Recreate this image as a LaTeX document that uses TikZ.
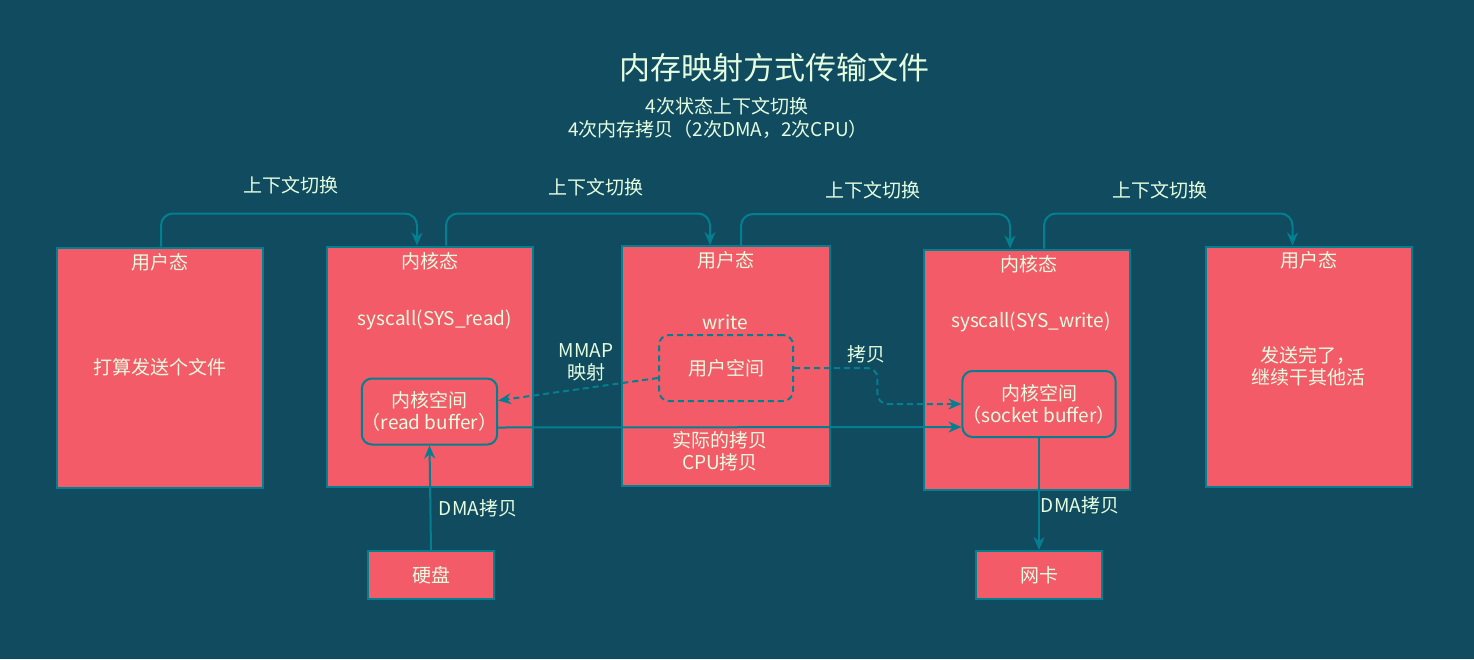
\documentclass[tikz,border=0pt]{standalone}
\usepackage{fontspec}
\setmainfont{Noto Sans CJK SC}
\usetikzlibrary{calc,arrows.meta}
\definecolor{bgc}{HTML}{114B5F}
\definecolor{boxc}{HTML}{F45B69}
\definecolor{linec}{HTML}{028090}
\definecolor{txtc}{HTML}{E4FDE1}

\begin{document}
\begin{tikzpicture}[x=1pt,y=-1pt,
  every node/.style={text=txtc,font=\fontsize{19}{22}\selectfont,align=center,inner sep=0pt},
  state/.style={draw=linec,fill=boxc,line width=2pt,minimum width=206pt,minimum height=240pt},
  buf/.style={draw=linec,fill=boxc,line width=2pt,rounded corners=10pt,minimum height=66pt},
  dev/.style={draw=linec,fill=boxc,line width=2pt,minimum width=126pt,minimum height=48pt},
  sw/.style={draw=linec,line width=2pt,rounded corners=12pt,-{Stealth[length=13pt,width=11pt]}},
  cp/.style={draw=linec,line width=2pt,-{Stealth[length=13pt,width=11pt]}},
  dsh/.style={cp,dash pattern=on 6pt off 4pt}]
          \fill[bgc] (0,0) rectangle (1474,659);
          \useasboundingbox (0,0) rectangle (1474,659);
          \node[font=\fontsize{31}{36}\selectfont] (T) at (774,68) {内存映射方式传输文件};
          \node (S1) at (727,106) {4次状态上下文切换};
          \node (S2) at (718,129) {4次内存拷贝（2次DMA，2次CPU）};
          \node[state] (A) at (160,367.5) {};
          \node[state] (B) at (430,366.5) {};
          \node[state,minimum width=208pt] (C) at (726,366) {};
          \node[state] (D) at (1027,369.5) {};
          \node[state] (E) at (1308.5,366.5) {};
          \node (A1) at (160,262) {用户态};
          \node (A2) at (160,367) {打算发送个文件};
          \node (B1) at (430,261) {内核态};
          \node (B2) at (435,320) {syscall(SYS\_read)};
          \node (C1) at (726,260) {用户态};
          \node (C2) at (725,322) {write};
          \node (C3) at (720,451) {实际的拷贝\\CPU拷贝};
          \node (D1) at (1029,264) {内核态};
          \node (D2) at (1031,322) {syscall(SYS\_write)};
          \node (E1) at (1309,260) {用户态};
          \node (E2) at (1308,366) {发送完了，\\继续干其他活};
          \node[buf,minimum width=133pt] (RB) at (429.5,411.5) {内核空间\\（read buffer）};
          \node[buf,minimum width=134pt,fill=none,dash pattern=on 6pt off 4pt] (UB) at (726,368) {用户空间};
          \node[buf,minimum width=150pt] (SB) at (1039,404) {内核空间\\（socket buffer）};
          \node[dev] (HD) at (431,575) {硬盘};
          \node[dev] (NC) at (1039,575) {网卡};
          \draw[sw] ($(A.north)+(1,0)$) -- ++(0,-33) -| ($(B.north)+(-13,0)$);
          \draw[sw] ($(B.north)+(16,0)$) -- ++(0,-32) -| ($(C.north)+(-16,0)$);
          \draw[sw] ($(C.north)+(15,0)$) -- ++(0,-31) -| ($(D.north)+(-17,0)$);
          \draw[sw] ($(D.north)+(17,0)$) -- ++(0,-35) -| ($(E.north)+(-16,0)$);
          \node (L1) at (291,185) {上下文切换};
          \node (L2) at (596,187) {上下文切换};
          \node (L3) at (873,190) {上下文切换};
          \node (L4) at (1160,190) {上下文切换};
          \draw[dsh] ($(UB.west)+(0,10)$) -- ($(RB.east)+(0,-11)$);
          \draw[dsh,rounded corners=10pt] (UB.east) -| ($(SB.west)+(-84,0)$) -- (SB.west);
          \draw[cp] ($(RB.east)+(0,16)$) -- ($(SB.west)+(0,23)$);
          \draw[cp] (HD.north) -- (RB.south);
          \draw[cp] (SB.south) -- (NC.north);
          \node (M) at (586,362) {MMAP\\映射};
          \node (K) at (866,354) {拷贝};
          \node (G1) at (478,508) {DMA拷贝};
          \node (G2) at (1080,505) {DMA拷贝};
        \end{tikzpicture}
\end{document}
